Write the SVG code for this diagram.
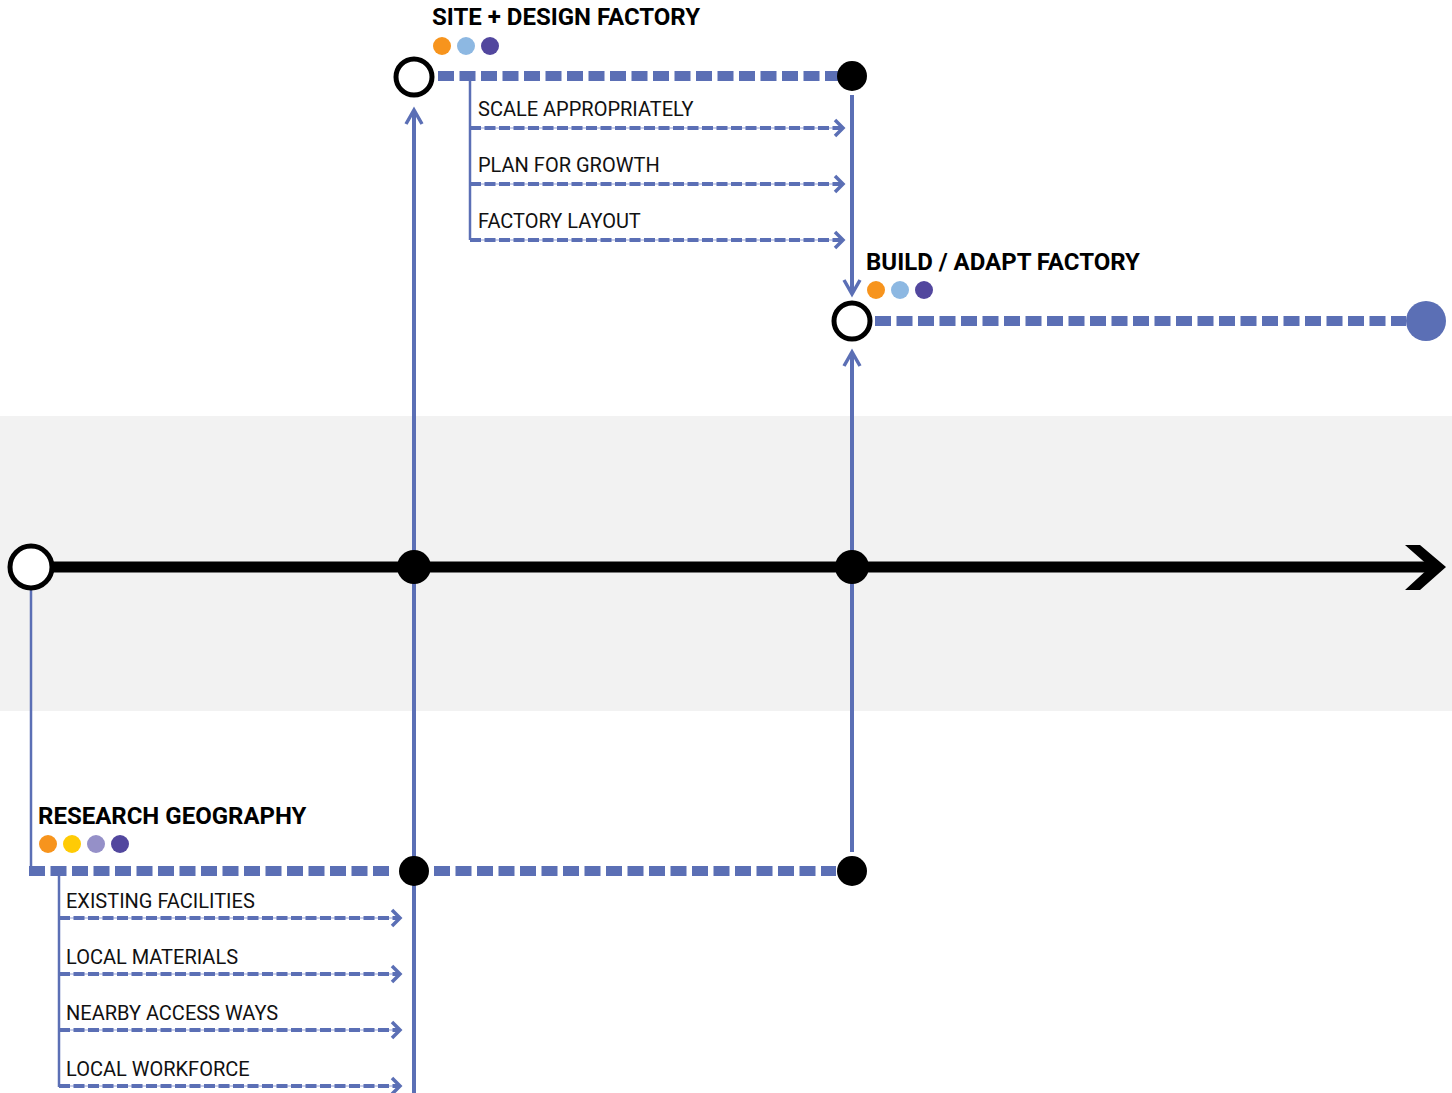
<svg xmlns="http://www.w3.org/2000/svg" width="1452" height="1093" viewBox="0 0 1452 1093">
<style>
.title{font-family:Roboto,"Liberation Sans",sans-serif;font-weight:bold;font-size:24px;fill:#000}
.lbl{font-family:Roboto,"Liberation Sans",sans-serif;font-size:20px;fill:#111}
.thick{stroke:#5b6fb5;stroke-width:10;stroke-dasharray:16 5.5;fill:none}
.solid{stroke:#5b6fb5;stroke-width:4;fill:none}
.thin{stroke:#5b6fb5;stroke-width:2.5;fill:none}
.sub{stroke:#5b6fb5;stroke-width:4;stroke-dasharray:11 3.5;fill:none}
.subbg{stroke:#b7bfe3;stroke-width:1.5;fill:none}
.chev{stroke:#5b6fb5;stroke-width:3.5;fill:none;stroke-linecap:butt}
.open{fill:#fff;stroke:#000;stroke-width:5}
.dot{fill:#000}
</style>
<rect x="0" y="416" width="1452" height="295" fill="#f2f2f2"/>

<g id="connectors">
  <line class="solid" x1="414" y1="112" x2="414" y2="1093"/>
  <polyline class="chev" points="406,124 414,110 422,124"/>
  <line class="solid" x1="852" y1="95" x2="852" y2="292"/>
  <polyline class="chev" points="844,280 852,294 860,280"/>
  <line class="solid" x1="852" y1="354" x2="852" y2="852"/>
  <polyline class="chev" points="844,366 852,352 860,366"/>
  <line class="thin" x1="31" y1="588" x2="31" y2="871"/>

  <line class="thick" x1="438" y1="76" x2="838" y2="76"/>
  <line class="thin" x1="470" y1="76" x2="470" y2="240"/>
  <line class="subbg" x1="470" y1="128" x2="842" y2="128"/>
  <line class="sub" x1="470" y1="128" x2="842" y2="128"/>
  <polyline class="chev" points="835,120 843,128 835,136"/>
  <line class="subbg" x1="470" y1="184" x2="842" y2="184"/>
  <line class="sub" x1="470" y1="184" x2="842" y2="184"/>
  <polyline class="chev" points="835,176 843,184 835,192"/>
  <line class="subbg" x1="470" y1="240" x2="842" y2="240"/>
  <line class="sub" x1="470" y1="240" x2="842" y2="240"/>
  <polyline class="chev" points="835,232 843,240 835,248"/>

  <line class="thick" x1="875" y1="321" x2="1406" y2="321"/>

  <line class="thick" x1="29" y1="871" x2="394" y2="871"/>
  <line class="thick" x1="434" y1="871" x2="836" y2="871"/>
  <line class="thin" x1="59" y1="871" x2="59" y2="1087"/>
  <line class="subbg" x1="59" y1="918" x2="399" y2="918"/>
  <line class="sub" x1="59" y1="918" x2="399" y2="918"/>
  <polyline class="chev" points="392,910 400,918 392,926"/>
  <line class="subbg" x1="59" y1="974" x2="399" y2="974"/>
  <line class="sub" x1="59" y1="974" x2="399" y2="974"/>
  <polyline class="chev" points="392,966 400,974 392,982"/>
  <line class="subbg" x1="59" y1="1030" x2="399" y2="1030"/>
  <line class="sub" x1="59" y1="1030" x2="399" y2="1030"/>
  <polyline class="chev" points="392,1022 400,1030 392,1038"/>
  <line class="subbg" x1="59" y1="1086" x2="399" y2="1086"/>
  <line class="sub" x1="59" y1="1086" x2="399" y2="1086"/>
  <polyline class="chev" points="392,1078 400,1086 392,1094"/>

  <line x1="40" y1="567" x2="1430" y2="567" stroke="#000" stroke-width="11"/>
  <polygon points="1405,545 1420,545 1446,567 1420,590 1405,590 1430,567" fill="#000"/>
</g>

<g id="node-start">
  <circle class="open" cx="31" cy="567" r="21" stroke-width="6"/>
</g>
<g id="node-t1"><circle class="dot" cx="414" cy="567" r="17"/></g>
<g id="node-t2"><circle class="dot" cx="852" cy="567" r="17"/></g>

<g id="node-site">
  <circle class="open" cx="414" cy="77" r="18"/>
  <text class="title" x="432" y="25">SITE + DESIGN FACTORY</text>
  <circle cx="442" cy="46" r="9" fill="#f7941d"/>
  <circle cx="466" cy="46" r="9" fill="#8db8e2"/>
  <circle cx="490" cy="46" r="9" fill="#52479e"/>
</g>
<g id="node-site-end"><circle class="dot" cx="852" cy="76" r="15"/></g>
<g id="item-scale"><text class="lbl" x="478" y="116">SCALE APPROPRIATELY</text></g>
<g id="item-growth"><text class="lbl" x="478" y="172">PLAN FOR GROWTH</text></g>
<g id="item-layout"><text class="lbl" x="478" y="228">FACTORY LAYOUT</text></g>

<g id="node-build">
  <circle class="open" cx="852" cy="321" r="18"/>
  <text class="title" x="866" y="270">BUILD / ADAPT FACTORY</text>
  <circle cx="876" cy="290" r="9" fill="#f7941d"/>
  <circle cx="900" cy="290" r="9" fill="#8db8e2"/>
  <circle cx="924" cy="290" r="9" fill="#52479e"/>
</g>
<g id="node-build-end"><circle cx="1426" cy="321" r="20" fill="#5b6fb5"/></g>

<g id="node-research">
  <text class="title" x="38" y="824">RESEARCH GEOGRAPHY</text>
  <circle cx="48" cy="844" r="9" fill="#f7941d"/>
  <circle cx="72" cy="844" r="9" fill="#ffcb05"/>
  <circle cx="96" cy="844" r="9" fill="#9590c8"/>
  <circle cx="120" cy="844" r="9" fill="#52479e"/>
</g>
<g id="node-r1"><circle class="dot" cx="414" cy="871" r="15"/></g>
<g id="node-r2"><circle class="dot" cx="852" cy="871" r="15"/></g>
<g id="item-existing"><text class="lbl" x="66" y="908">EXISTING FACILITIES</text></g>
<g id="item-materials"><text class="lbl" x="66" y="964">LOCAL MATERIALS</text></g>
<g id="item-access"><text class="lbl" x="66" y="1020">NEARBY ACCESS WAYS</text></g>
<g id="item-workforce"><text class="lbl" x="66" y="1076">LOCAL WORKFORCE</text></g>
</svg>
